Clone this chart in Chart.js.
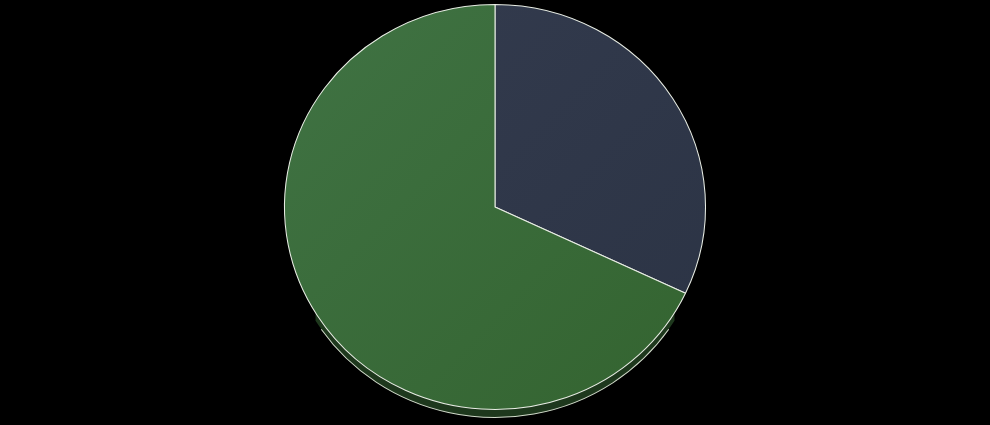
<!DOCTYPE html>
<html>
<head>
<meta charset="utf-8">
<script src="https://cdn.jsdelivr.net/npm/chart.js@4.4.1/dist/chart.umd.min.js"></script>
<style>
  html, body { margin: 0; padding: 0; background: #000; }
  #wrap { width: 990px; height: 425px; position: relative; }
</style>
</head>
<body>
<div id="wrap"><canvas id="pieChart"></canvas></div>
<script>
// slice data, clockwise from 12 o'clock
const labels = ['A', 'B'];
const values = [32, 68];
const colorsLeft = ['#343c4f', '#407344'];
const colorsRight = ['#2b3344', '#33632f'];

// the pie is seen a little tilted: wider than tall
const stretchX = 210 / 202;

const tiltPlugin = {
    id: 'tilt',
    beforeDatasetsDraw(chart) {
        const arc = chart.getDatasetMeta(0).data[0];
        if (!arc) return;
        const ctx = chart.ctx;
        const r = arc.outerRadius;
        ctx.save();
        ctx.translate(arc.x, 0);
        ctx.scale(stretchX, 1);
        ctx.translate(-arc.x, 0);
        // lower rim under the pie, only on the front edge
        ctx.save();
        ctx.beginPath();
        ctx.arc(arc.x, arc.y + 8, r, 0.55, Math.PI - 0.55);
        ctx.arc(arc.x, arc.y, r, Math.PI - 0.55, 0.55, true);
        ctx.closePath();
        ctx.fillStyle = '#1e381d';
        ctx.fill();
        ctx.beginPath();
        ctx.arc(arc.x, arc.y + 8, r, 0.6, Math.PI - 0.6);
        ctx.lineWidth = 1;
        ctx.strokeStyle = '#cfd8c8';
        ctx.stroke();
        ctx.restore();
    },
    afterDatasetsDraw(chart) {
        chart.ctx.restore();
    }
};

function sliceFill(context) {
    const area = context.chart.chartArea;
    if (!area) return colorsRight[context.dataIndex];
    const g = context.chart.ctx.createLinearGradient(area.left + 280, area.top, area.right - 280, area.bottom);
    g.addColorStop(0, colorsLeft[context.dataIndex]);
    g.addColorStop(1, colorsRight[context.dataIndex]);
    return g;
}

new Chart(document.getElementById('pieChart').getContext('2d'), {
    type: 'pie',
    data: {
        labels: labels,
        datasets: [{
            data: values,
            backgroundColor: sliceFill,
            borderColor: '#e8ede4',
            borderWidth: 1,
            hoverOffset: 0
        }]
    },
    options: {
        responsive: true,
        maintainAspectRatio: false,
        animation: false,
        layout: { padding: { top: 4, bottom: 15 } },
        plugins: {
            legend: { display: false },
            tooltip: { enabled: false }
        }
    },
    plugins: [tiltPlugin]
});
</script>
</body>
</html>
